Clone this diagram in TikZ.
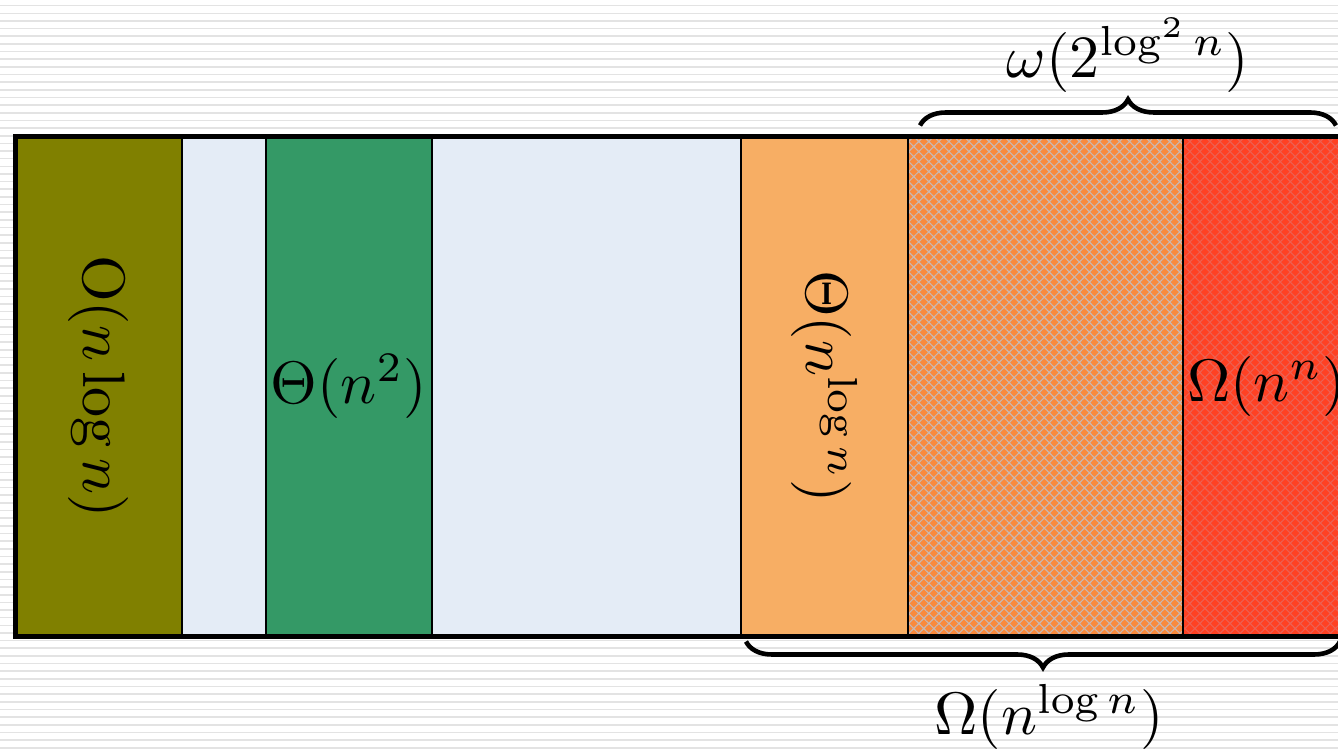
\documentclass[tikz,border=0pt]{standalone}
\usetikzlibrary{positioning, decorations.pathreplacing, patterns.meta}
\definecolor{paleblue}{RGB}{228,236,246}
\definecolor{oliveA}{RGB}{128,128,0}
\definecolor{greenA}{RGB}{52,153,102}
\definecolor{peach}{RGB}{247,174,100}
\definecolor{orangeA}{RGB}{249,138,61}
\definecolor{redA}{RGB}{255,65,35}
\definecolor{hatchA}{RGB}{200,184,178}
\definecolor{hatchB}{RGB}{236,96,82}
\begin{document}
\begin{tikzpicture}[x=1pt, y=1pt, node distance=0pt,
    block/.style={draw, line width=2.2pt, minimum height=500pt, inner sep=0, outer sep=0, anchor=west},
    hatched/.style={preaction={fill=#1}, pattern={Hatch[angle=45, distance=7.1pt, line width=1.1pt]}},
    lbl/.style={scale=6, inner sep=0},
    brc/.style={decorate, decoration={brace, amplitude=26pt}, line width=4.6pt},
    stripe/.style={gray!22, line width=1.6pt}]
    \useasboundingbox (0,0) rectangle (1338,749);
    \clip (0,0) rectangle (1338,749);
    \fill[white] (0,0) rectangle (1338,749);
    \foreach \i in {0,...,97}
        \draw[stripe] (0,743.3-\i*7.65) -- (1338,743.3-\i*7.65);
    % blocks
    \node[block, fill=oliveA, minimum width=167pt] (ol) at (15,362.5) {};
    \node[block, fill=paleblue, minimum width=84pt, right=of ol] (gapA) {};
    \node[block, fill=greenA, minimum width=166pt, right=of gapA] (gr) {};
    \node[block, fill=paleblue, minimum width=309pt, right=of gr] (gapB) {};
    \node[block, fill=peach, minimum width=167pt, right=of gapB] (pe) {};
    \node[block, hatched=orangeA, pattern color=hatchA, minimum width=275pt, right=of pe] (or) {};
    \node[block, hatched=redA, pattern color=hatchB, minimum width=167pt, right=of or] (rd) {};
    \draw[line width=5pt] (ol.north west) rectangle (rd.south east);
    % labels
    \node[lbl, rotate=-90] (olT) at (ol) {$\mathrm{O}(n\log n)$};
    \node[lbl] (grT) at (gr) {$\Theta(n^2)$};
    \node[lbl, rotate=-90] (peT) at (pe) {$\Theta(n^{\log n})$};
    \node[lbl] (rdT) at (rd) {$\Omega(n^n)$};
    % braces
    \coordinate (tbA) at ([xshift=12pt, yshift=11pt]or.north west);
    \coordinate (tbB) at ([xshift=-14pt, yshift=11pt]rd.north east);
    \coordinate (bbA) at ([xshift=5pt, yshift=-5pt]pe.south west);
    \coordinate (bbB) at ([xshift=-10pt, yshift=-5pt]rd.south east);
    \draw[brc] (tbA) -- (tbB);
    \draw[brc] (bbB) -- (bbA);
    \node[lbl] (tbT) at (1128,694) {$\omega(2^{\log^2 n})$};
    \node[lbl] (bbT) at (1049,32) {$\Omega(n^{\log n})$};
\end{tikzpicture}
\end{document}
